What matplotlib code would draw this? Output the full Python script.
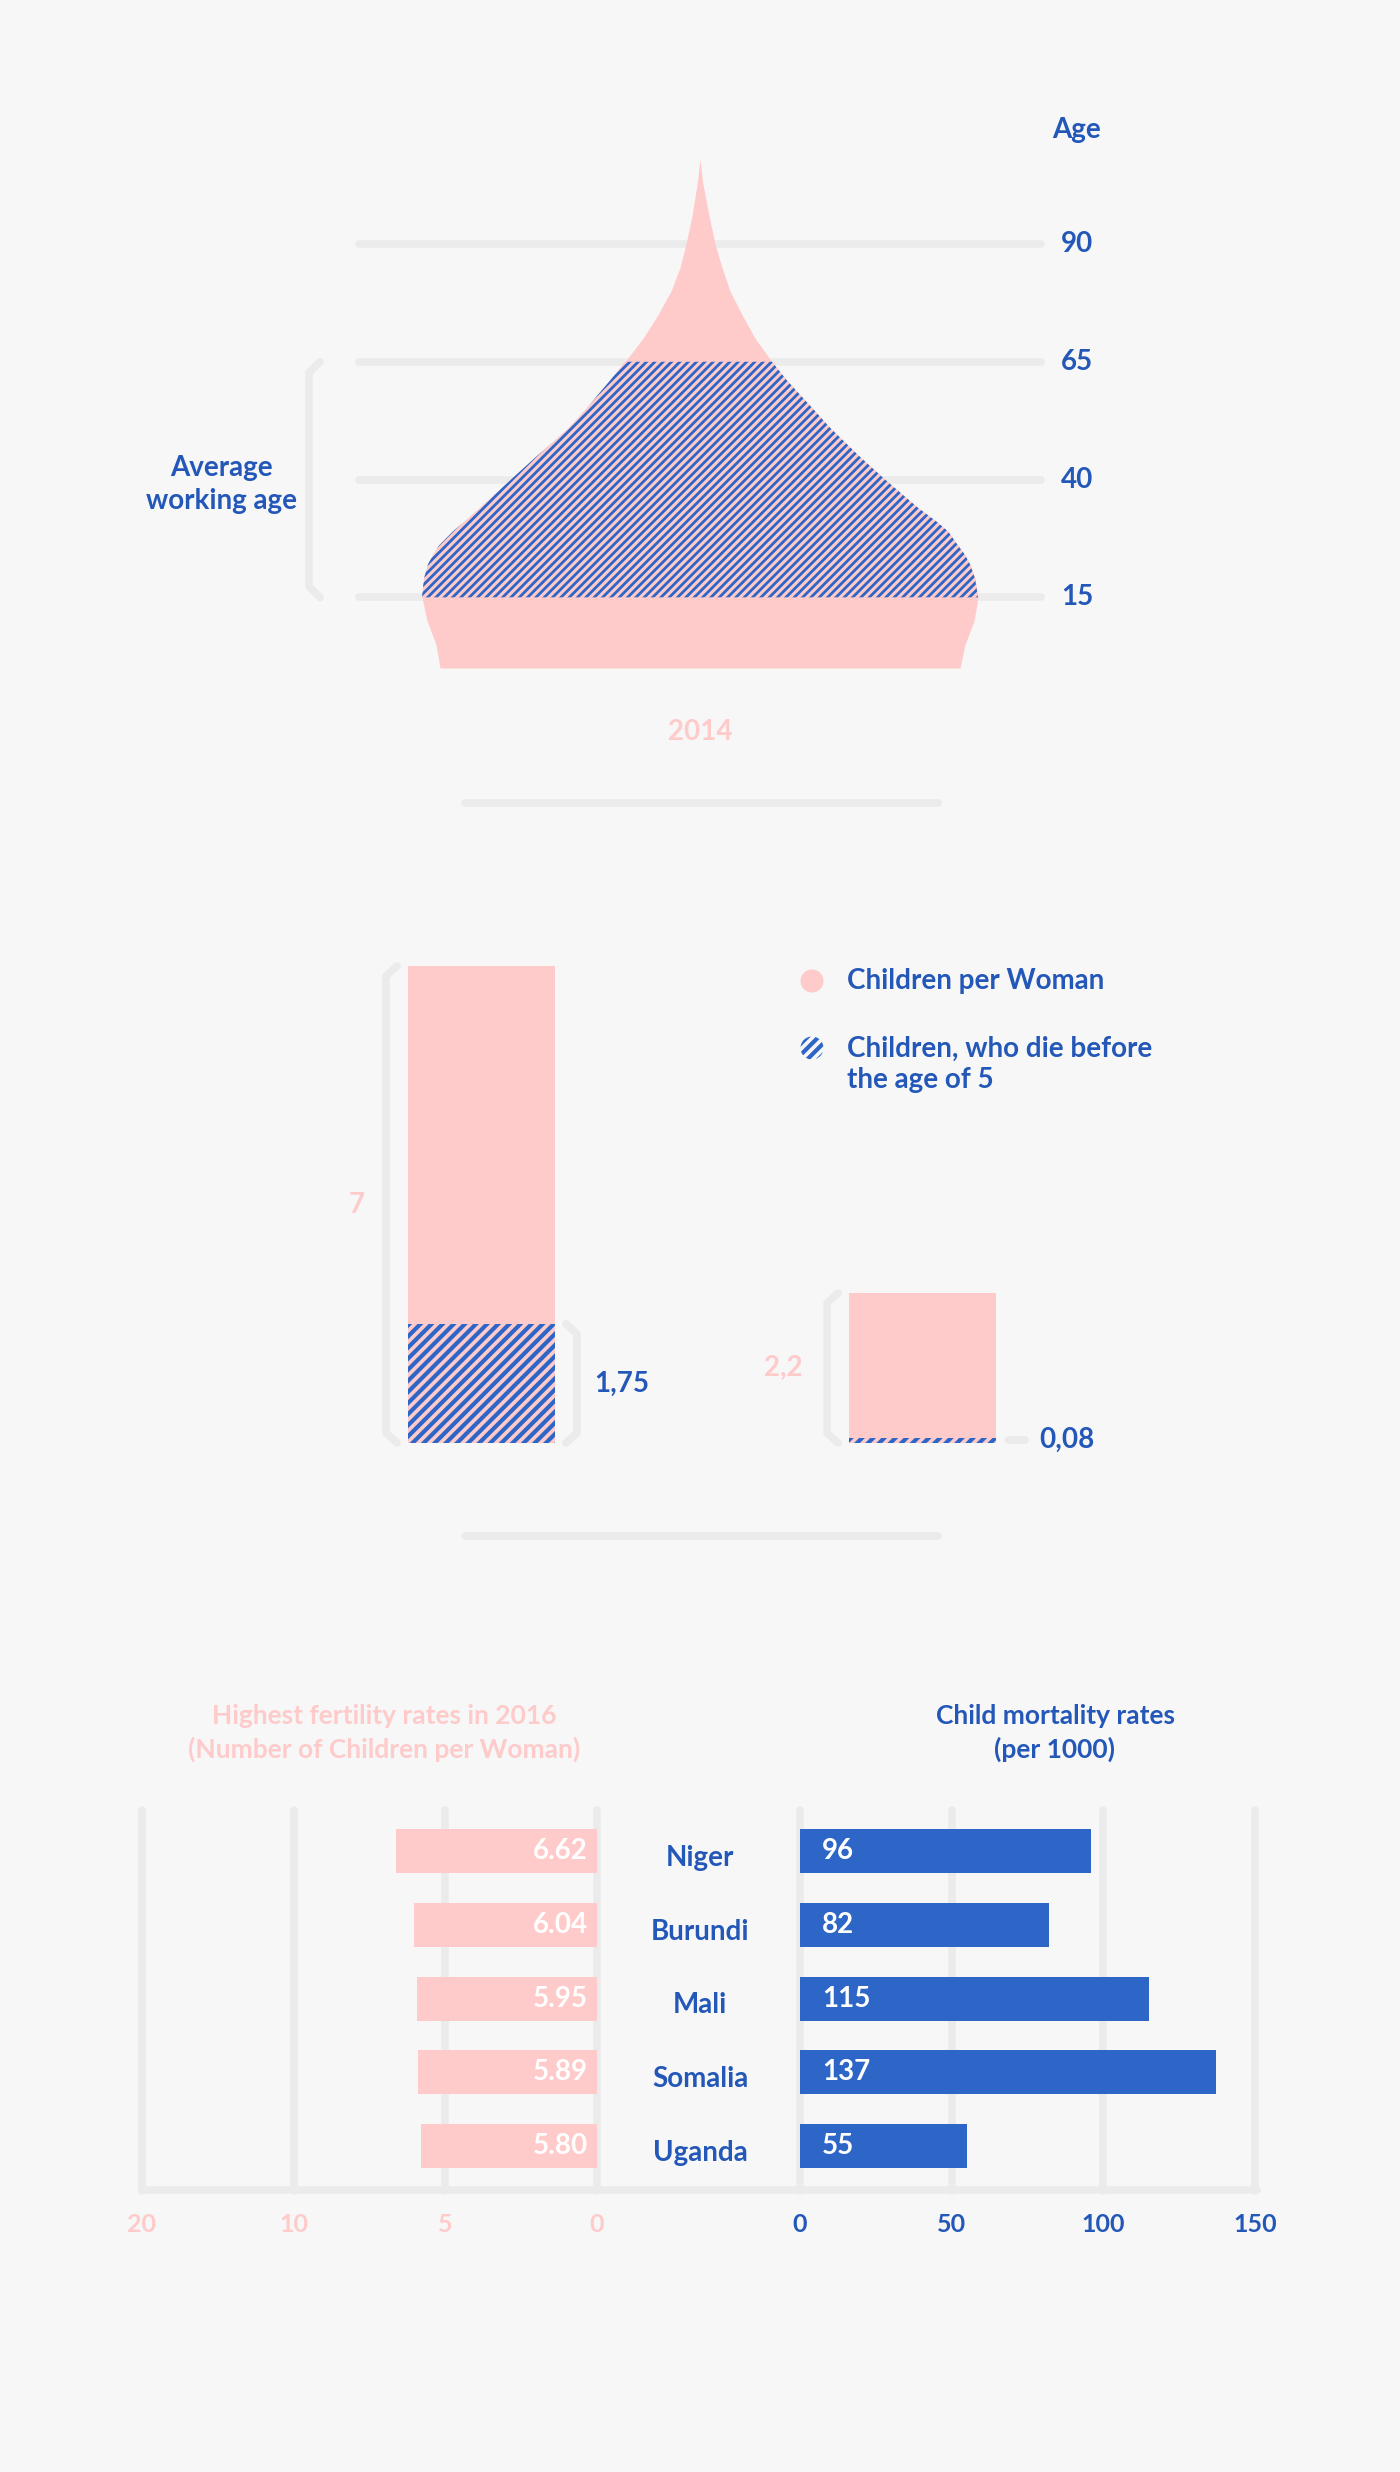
import numpy as np
import matplotlib
matplotlib.use("Agg")
import matplotlib.pyplot as plt
from matplotlib.patches import Circle
from matplotlib.transforms import blended_transform_factory


# -----------------------------
# Data
# -----------------------------

# population shape 2014 (width of each side)
pop_age = np.array([0, 5, 10, 15, 19, 22, 24, 26, 29, 31, 34, 40, 45, 51, 55, 58, 61,
                    65, 70, 75, 80, 85, 90, 96, 103, 108])
pop_left = np.array([26.0, 26.4, 27.3, 27.8, 27.6, 27.2, 26.7, 26.1, 24.7, 23.6, 22.0,
                     18.9, 16.3, 13.1, 11.4, 10.2, 9.0, 7.5, 5.7, 4.2, 2.9, 2.0, 1.4,
                     0.8, 0.27, 0.0])
pop_right = np.array([26.0, 26.5, 27.4, 27.8, 27.5, 27.0, 26.5, 25.8, 24.8, 23.7, 21.8,
                      18.5, 15.9, 13.0, 11.3, 10.0, 8.7, 7.2, 5.5, 4.2, 3.0, 2.2, 1.5,
                      0.9, 0.27, 0.0])
age_ticks = [15, 40, 65, 90]
working_age = (15, 65)
pyramid_year = "2014"

# children per woman vs. children dying before 5
children_per_woman = [7, 2.2]
children_died = [1.75, 0.08]

# fertility / child mortality ranking
countries = ["Niger", "Burundi", "Mali", "Somalia", "Uganda"]
fertility = [6.62, 6.04, 5.95, 5.89, 5.80]
mortality = [96, 82, 115, 137, 55]
fert_ticks = [20, 10, 5, 0]
mort_ticks = [0, 50, 100, 150]


# -----------------------------
# Style
# -----------------------------

W, H = 1400, 2472
BG = "#F7F7F7"
PINK = "#FFCACA"
BLUE = "#2D66C7"
TEXT_BLUE = "#2357B8"
GRAY = "#EBEBEB"
GRID_LW = 5.5
FS = 20

plt.rcParams["font.family"] = ["Lato", "DejaVu Sans"]
plt.rcParams["font.weight"] = "bold"
plt.rcParams["hatch.linewidth"] = 2.4


def px_axes(fig, x0, y0, x1, y1):
    """Add an axes placed by pixel box (top-left origin)."""
    ax = fig.add_axes([x0 / W, 1 - y1 / H, (x1 - x0) / W, (y1 - y0) / H])
    ax.set_facecolor("none")
    for s in ax.spines.values():
        s.set_visible(False)
    return ax


def hatch_lw(artists, lw):
    for a in artists:
        if hasattr(a, "set_hatch_linewidth"):
            a.set_hatch_linewidth(lw)


def bracket(ax, x, y0, y1, hook_x, hook_y):
    ax.plot([x + hook_x, x, x, x + hook_x], [y1, y1 - hook_y, y0 + hook_y, y0],
            color=GRAY, lw=GRID_LW, solid_joinstyle="round",
            solid_capstyle="round", zorder=0, clip_on=False)


fig = plt.figure(figsize=(W / 100, H / 100), dpi=100, facecolor=BG)

# background layer in pixel units
bg = px_axes(fig, 0, 0, W, H)
bg.set_xlim(0, W)
bg.set_ylim(H, 0)
bg.axis("off")
bg.set_zorder(0)

for y in (803, 1536):
    bg.plot([465, 938], [y, y], color=GRAY, lw=GRID_LW, solid_capstyle="round")
bg.plot([142, 1257], [2190, 2190], color=GRAY, lw=GRID_LW, solid_capstyle="round")

# -----------------------------
# Population shape
# -----------------------------

px_per_age = 4.711
age0_y = 668
ax_top = px_axes(fig, 0, 120, W, 700)
ax_top.set_zorder(1)
ax_top.set_xlim(-70, 70)
ax_top.set_ylim((age0_y - 700) / px_per_age, (age0_y - 120) / px_per_age)
ax_top.set_xticks([])
ax_top.set_yticks([])

grid = ax_top.hlines(age_ticks, -34.1, 34.1, color=GRAY, lw=GRID_LW, zorder=0)
grid.set_capstyle("round")

ax_top.fill_betweenx(pop_age, -pop_left, pop_right, color=PINK, lw=0, zorder=1)
work = (pop_age >= working_age[0]) & (pop_age <= working_age[1])
hatched = ax_top.fill_betweenx(pop_age, -pop_left, pop_right, where=work, facecolor=PINK,
                               edgecolor=BLUE, hatch="////", lw=0, zorder=2)
hatch_lw([hatched], 2.0)

for a in age_ticks:
    ax_top.text(37.7, a, str(a), ha="center", va="center", color=TEXT_BLUE, size=FS)
ax_top.text(37.7, 114.2, "Age", ha="center", va="center", color=TEXT_BLUE, size=FS)

bracket(ax_top, -39.1, working_age[0], working_age[1], 1.1, 2.3)
ax_top.text(-47.9, 39, "Average\nworking age", ha="center", va="center",
            color=TEXT_BLUE, size=FS, linespacing=1.33)

bg.text(700, 732, pyramid_year, ha="center", va="center", color=PINK, size=FS)

# -----------------------------
# Children per woman bars
# -----------------------------

ax_mid = px_axes(fig, 300, 940, 1100, 1460)
ax_mid.set_zorder(1)
ax_mid.set_xlim(-0.4116, 1.4025)
ax_mid.set_ylim(-17 / 68.14, 503 / 68.14)
ax_mid.set_xticks([])
ax_mid.set_yticks([])

xpos = np.arange(len(children_per_woman))
bw = 0.333
ax_mid.bar(xpos, children_per_woman, bw, color=PINK, lw=0)
died_bars = ax_mid.bar(xpos, children_died, bw, facecolor=PINK, edgecolor=BLUE,
                       hatch="///", lw=0)
hatch_lw(died_bars.patches, 3.0)

hx, hy = 11 / 441, 10 / 68.14
gap = 22 / 441
bracket(ax_mid, xpos[0] - bw / 2 - gap, 0, children_per_woman[0], hx, hy)
bracket(ax_mid, xpos[0] + bw / 2 + gap, 0, children_died[0], -hx, hy)
bracket(ax_mid, xpos[1] - bw / 2 - gap, 0, children_per_woman[1], hx, hy)
ax_mid.plot([xpos[1] + bw / 2 + 0.027, xpos[1] + bw / 2 + 0.066],
            [children_died[1] / 2] * 2, color=GRAY, lw=GRID_LW, solid_capstyle="round")


def fmt(v):
    return f"{v:g}".replace(".", ",")


ax_mid.annotate(fmt(children_per_woman[0]), (xpos[0] - bw / 2, children_per_woman[0] / 2),
                xytext=(-37, 0), textcoords="offset points", ha="center", va="center",
                color=PINK, size=FS)
ax_mid.annotate(fmt(children_died[0]), (xpos[0] + bw / 2, children_died[0] / 2),
                xytext=(48, 0), textcoords="offset points", ha="center", va="center",
                color=TEXT_BLUE, size=FS)
ax_mid.annotate(fmt(children_per_woman[1]), (xpos[1] - bw / 2, children_per_woman[1] / 2),
                xytext=(-47, 0), textcoords="offset points", ha="center", va="center",
                color=PINK, size=FS)
ax_mid.annotate(fmt(children_died[1]), (xpos[1] + bw / 2, children_died[1] / 2),
                xytext=(31, 0), textcoords="offset points", ha="left", va="center",
                color=TEXT_BLUE, size=FS)

# legend
bg.add_patch(Circle((812, 981), 11.5, facecolor=PINK, lw=0))
leg_hatch = Circle((812, 1048), 11.5, facecolor="none", edgecolor=BLUE, hatch="///", lw=0)
bg.add_patch(leg_hatch)
hatch_lw([leg_hatch], 3.0)
bg.text(847, 981, "Children per Woman", ha="left", va="center", color=TEXT_BLUE, size=FS)
bg.text(847, 1064, "Children, who die before\nthe age of 5", ha="left", va="center",
        color=TEXT_BLUE, size=FS, linespacing=1.25)

# -----------------------------
# Fertility & child mortality
# -----------------------------

rows = np.arange(len(countries))
row_px = 73.8
ylim = ((2190.5 - 1851) / row_px, (1810 - 1851) / row_px)


def fwd(x):
    return np.interp(x, [0, 5, 10, 20], [0, 1, 2, 3])


def inv(x):
    return np.interp(x, [0, 1, 2, 3], [0, 5, 10, 20])


ax_l = px_axes(fig, 142, 1810, 597, 2190.5)
ax_r = px_axes(fig, 800, 1810, 1255, 2190.5)
ax_l.set_xscale("function", functions=(fwd, inv))
ax_l.set_xlim(20, 0)
ax_r.set_xlim(0, 150)

for ax, ticks, col in ((ax_l, fert_ticks, PINK), (ax_r, mort_ticks, TEXT_BLUE)):
    ax.set_zorder(1)
    ax.set_ylim(*ylim)
    ax.set_yticks([])
    ax.set_xticks(ticks)
    ax.set_xticklabels([str(t) for t in ticks], fontweight="bold")
    ax.tick_params(axis="x", length=0, pad=16, labelsize=18, labelcolor=col)
    for t in ticks:
        ax.axvline(t, color=GRAY, lw=GRID_LW, solid_capstyle="round", zorder=0, clip_on=False)

ax_l.barh(rows, fertility, height=0.596, color=PINK, lw=0, zorder=2)
ax_r.barh(rows, mortality, height=0.596, color=BLUE, lw=0, zorder=2)

for i, v in enumerate(fertility):
    ax_l.annotate(f"{v:.2f}", (0, i), xytext=(-6.5, 0), textcoords="offset points",
                  ha="right", va="center", color="white", size=FS, zorder=3)
for i, v in enumerate(mortality):
    ax_r.annotate(str(v), (0, i), xytext=(16, 0), textcoords="offset points",
                  ha="left", va="center", color="white", size=FS, zorder=3)

trans = blended_transform_factory(ax_r.transAxes, ax_r.transData)
for i, name in enumerate(countries):
    ax_r.text(-0.2198, i + 0.2, name, transform=trans, ha="center", va="baseline",
              color=TEXT_BLUE, size=FS)

bg.text(384, 1733, "Highest fertility rates in 2016\n(Number of Children per Woman)",
        ha="center", va="center", color=PINK, size=19, linespacing=1.4)
bg.text(1055, 1733, "Child mortality rates\n(per 1000)",
        ha="center", va="center", color=TEXT_BLUE, size=19, linespacing=1.4)

fig.savefig("out.png", dpi=100, facecolor=BG)
